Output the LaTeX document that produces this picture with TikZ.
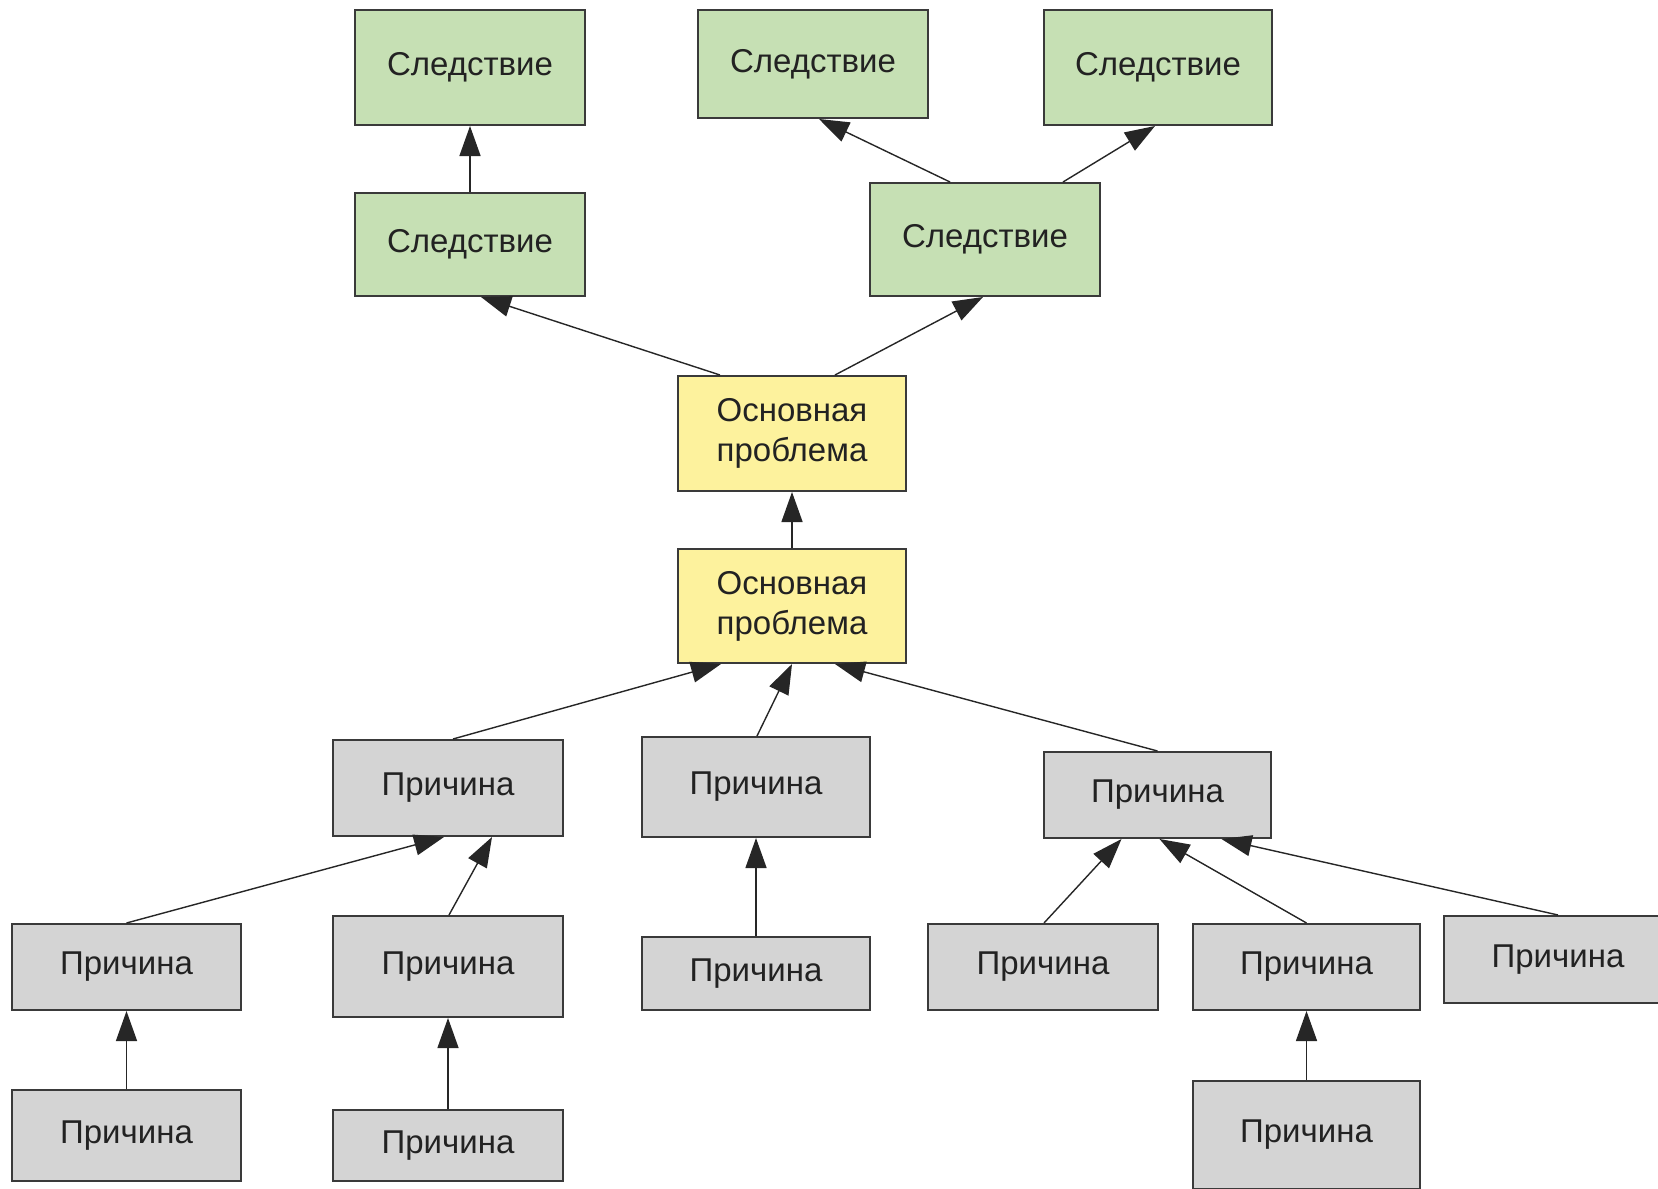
\documentclass[tikz,border=0pt]{standalone}
\usepackage{fontspec}
\setmainfont{Liberation Sans}
\usetikzlibrary{arrows.meta}
\definecolor{gfill}{HTML}{C6E0B4}
\definecolor{yfill}{HTML}{FDF29D}
\definecolor{rfill}{HTML}{D4D4D4}
\definecolor{bord}{HTML}{3A3A3A}
\definecolor{txt}{HTML}{222222}
\tikzset{
  boxbase/.style={draw=bord, line width=1pt, inner sep=0pt, align=center,
    text=txt, font=\fontsize{16.5}{20}\selectfont},
  cons/.style={boxbase, fill=gfill},
  prob/.style={boxbase, fill=yfill},
  cause/.style={boxbase, fill=rfill},
  conn/.style={draw=black!85, line width=0.7pt, -{Triangle[length=15pt,width=10.5pt]}}
}
\begin{document}
\begin{tikzpicture}[x=0.5pt,y=-0.5pt]
\clip (0,0) rectangle (1658,1188);
\fill[white] (0,0) rectangle (1658,1188);
% consequences
\node[cons, minimum width=115pt, minimum height=57.5pt] (c1) at (470,67.5) {Следствие};
\node[cons, minimum width=115pt, minimum height=54pt] (c2) at (813,64) {Следствие};
\node[cons, minimum width=114pt, minimum height=57.5pt] (c3) at (1158,67.5) {Следствие};
\node[cons, minimum width=115pt, minimum height=51.5pt] (c4) at (470,244.5) {Следствие};
\node[cons, minimum width=115pt, minimum height=56.5pt] (c5) at (985,239.5) {Следствие};
% problems
\node[prob, minimum width=114pt, minimum height=57.5pt] (p1) at (792,433.5) {Основная\\проблема};
\node[prob, minimum width=114pt, minimum height=57pt] (p2) at (792,606) {Основная\\проблема};
% causes
\node[cause, minimum width=115pt, minimum height=48pt] (r1) at (448,788) {Причина};
\node[cause, minimum width=114pt, minimum height=50pt] (r2) at (756,787) {Причина};
\node[cause, minimum width=113.5pt, minimum height=43pt] (r3) at (1157.5,795) {Причина};
\node[cause, minimum width=114.5pt, minimum height=43pt] (r4) at (126.5,967) {Причина};
\node[cause, minimum width=115pt, minimum height=50.5pt] (r5) at (448,966.5) {Причина};
\node[cause, minimum width=114pt, minimum height=36.5pt] (r6) at (756,973.5) {Причина};
\node[cause, minimum width=115pt, minimum height=43pt] (r7) at (1043,967) {Причина};
\node[cause, minimum width=113.5pt, minimum height=43pt] (r8) at (1306.5,967) {Причина};
\node[cause, minimum width=114pt, minimum height=43.5pt] (r9) at (1558,959.5) {Причина};
\node[cause, minimum width=114.5pt, minimum height=45.5pt] (r10) at (126.5,1135.5) {Причина};
\node[cause, minimum width=115pt, minimum height=35.5pt] (r11) at (448,1145.5) {Причина};
\node[cause, minimum width=113.5pt, minimum height=54pt] (r12) at (1306.5,1135) {Причина};
% connectors
\draw[conn] (c4.north) -- (c1.south);
\draw[conn] ([xshift=-36pt]p1.north) -- ([xshift=5.5pt]c4.south);
\draw[conn] ([xshift=21.5pt]p1.north) -- ([xshift=-1pt]c5.south);
\draw[conn] ([xshift=-17.5pt]c5.north) -- ([xshift=3pt]c2.south);
\draw[conn] ([xshift=39pt]c5.north) -- ([xshift=-1.5pt]c3.south);
\draw[conn] (p2.north) -- (p1.south);
\draw[conn] ([xshift=2.5pt]r1.north) -- ([xshift=-35.5pt]p2.south);
\draw[conn] ([xshift=0.5pt]r2.north) -- (p2.south);
\draw[conn] (r3.north) -- ([xshift=21.5pt]p2.south);
\draw[conn] (r4.north) -- ([xshift=-2pt]r1.south);
\draw[conn] ([xshift=0.5pt]r5.north) -- ([xshift=22pt]r1.south);
\draw[conn] (r6.north) -- (r2.south);
\draw[conn] ([xshift=0.5pt]r7.north) -- ([xshift=-18pt]r3.south);
\draw[conn] (r8.north) -- ([xshift=1pt]r3.south);
\draw[conn] (r9.north) -- ([xshift=32pt]r3.south);
\draw[conn] (r10.north) -- (r4.south);
\draw[conn] (r11.north) -- (r5.south);
\draw[conn] (r12.north) -- (r8.south);
\end{tikzpicture}
\end{document}
